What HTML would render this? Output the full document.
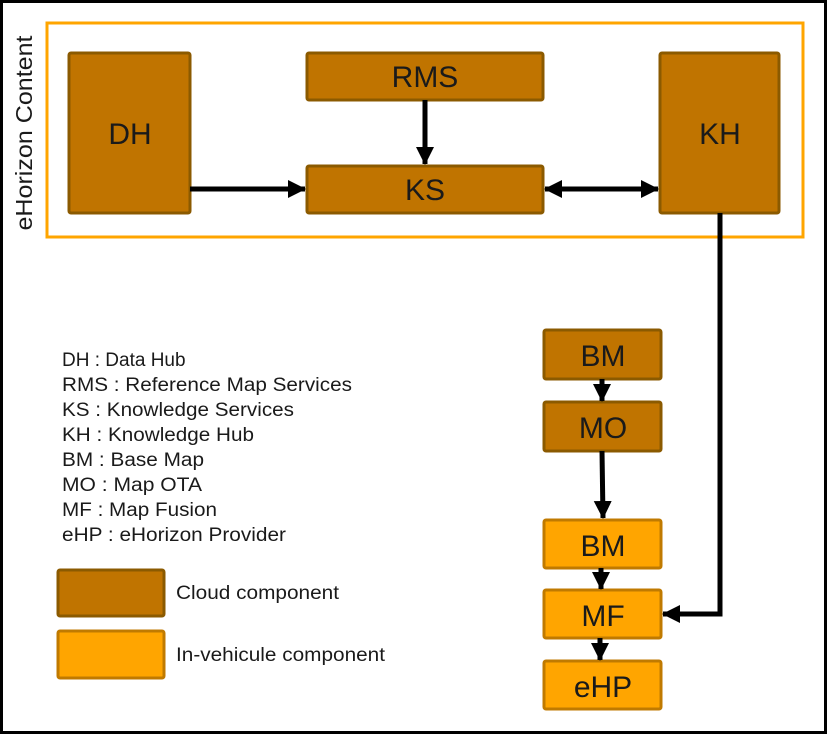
<html><head><style>body{margin:0}svg text{font-family:"Liberation Sans",sans-serif;fill:#1a1a1a}</style></head><body>
<svg width="827" height="734" xmlns="http://www.w3.org/2000/svg">
<defs>
<marker id="b" markerWidth="18" markerHeight="18" refX="17" refY="9" orient="auto" markerUnits="userSpaceOnUse"><path d="M0,0 L18,9 L0,18 z" fill="#000"/></marker>
<marker id="c" markerWidth="18" markerHeight="18" refX="1" refY="9" orient="auto" markerUnits="userSpaceOnUse"><path d="M18,0 L0,9 L18,18 z" fill="#000"/></marker></defs>
<rect x="1.5" y="1.5" width="824" height="731" fill="#fff" stroke="#000" stroke-width="3"/>
<rect x="47" y="23" width="756" height="214" fill="none" stroke="#FFA500" stroke-width="3"/>
<text transform="translate(32,133) rotate(-90)" text-anchor="middle" font-size="23" textLength="195" lengthAdjust="spacingAndGlyphs">eHorizon Content</text>
<g fill="#C07400" stroke="#8B5A00" stroke-width="3">
<rect x="69" y="53" width="121" height="160" rx="2"/>
<rect x="307" y="53" width="236" height="47" rx="2"/>
<rect x="307" y="166" width="236" height="47" rx="2"/>
<rect x="660" y="53" width="119" height="160" rx="2"/>
<rect x="544" y="330" width="117" height="49" rx="2"/>
<rect x="544" y="402" width="117" height="49" rx="2"/>
<rect x="58" y="570" width="106" height="46" rx="2"/>
</g>
<g fill="#FFA500" stroke="#C07A00" stroke-width="3">
<rect x="544" y="520" width="117" height="48" rx="2"/>
<rect x="544" y="590" width="117" height="48" rx="2"/>
<rect x="544" y="661" width="117" height="48" rx="2"/>
<rect x="58" y="631" width="106" height="47" rx="2"/>
</g>
<g font-size="30" text-anchor="middle">
<text x="130" y="144">DH</text><text x="425" y="87">RMS</text><text x="425" y="200">KS</text><text x="720" y="144">KH</text>
<text x="603" y="366">BM</text><text x="603" y="438">MO</text><text x="603" y="556">BM</text><text x="603" y="626">MF</text><text x="603" y="697">eHP</text>
</g>
<g stroke="#000" stroke-width="5" fill="none">
<line x1="190" y1="189" x2="305" y2="189" marker-end="url(#b)"/>
<line x1="425" y1="100" x2="425" y2="164" marker-end="url(#b)"/>
<line x1="545" y1="189" x2="658" y2="189" marker-end="url(#b)" marker-start="url(#c)"/>
<polyline points="720,213 720,614 663,614" marker-end="url(#b)"/>
<line x1="602" y1="379" x2="602" y2="401" marker-end="url(#b)"/>
<line x1="602" y1="451" x2="603" y2="518" marker-end="url(#b)"/>
<line x1="601" y1="568" x2="601" y2="589" marker-end="url(#b)"/>
<line x1="600" y1="638" x2="600" y2="660" marker-end="url(#b)"/>
</g>
<g font-size="19">
<text x="62" y="366">DH : Data Hub</text>
<text x="62" y="391" textLength="290" lengthAdjust="spacingAndGlyphs">RMS : Reference Map Services</text>
<text x="62" y="416" textLength="232" lengthAdjust="spacingAndGlyphs">KS : Knowledge Services</text>
<text x="62" y="441" textLength="192" lengthAdjust="spacingAndGlyphs">KH : Knowledge Hub</text>
<text x="62" y="466" textLength="142" lengthAdjust="spacingAndGlyphs">BM : Base Map</text>
<text x="62" y="491" textLength="140" lengthAdjust="spacingAndGlyphs">MO : Map OTA</text>
<text x="62" y="516" textLength="155" lengthAdjust="spacingAndGlyphs">MF : Map Fusion</text>
<text x="62" y="541" textLength="224" lengthAdjust="spacingAndGlyphs">eHP : eHorizon Provider</text>
<text x="176" y="599" textLength="163" lengthAdjust="spacingAndGlyphs">Cloud component</text>
<text x="176" y="661" textLength="209" lengthAdjust="spacingAndGlyphs">In-vehicule component</text>
</g>
</svg></body></html>
